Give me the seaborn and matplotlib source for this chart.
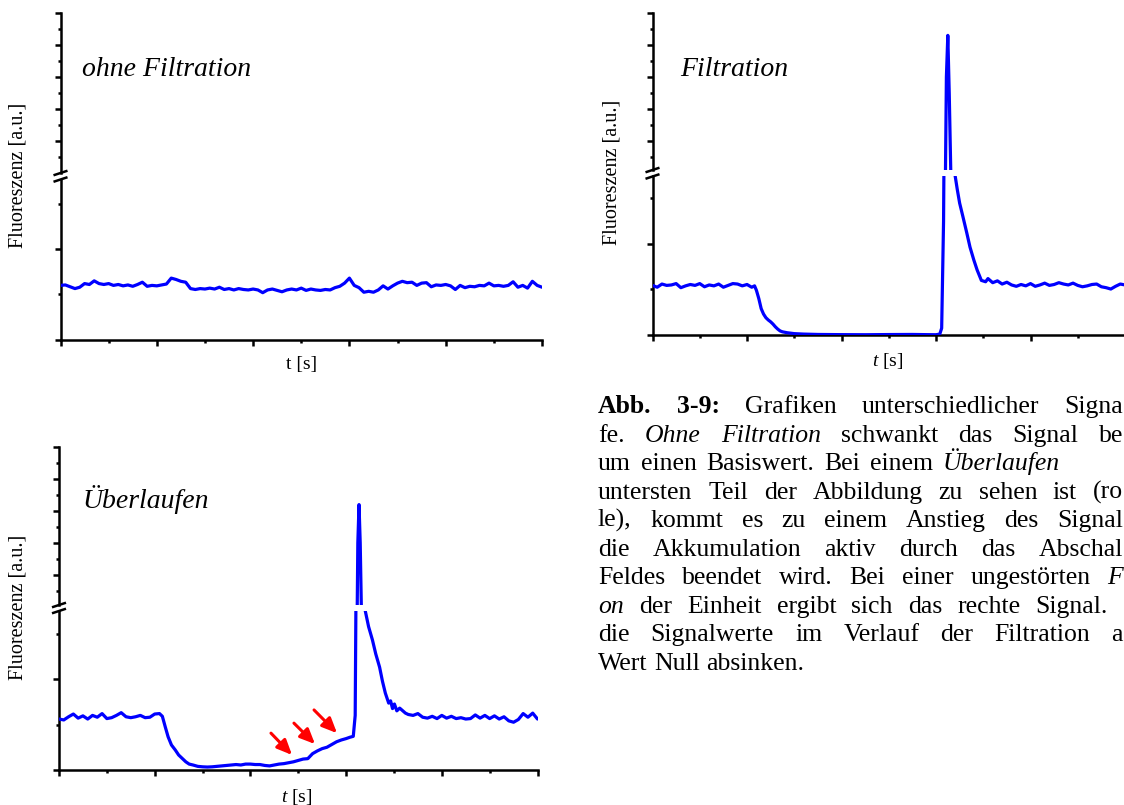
import numpy as np
import pandas as pd
import matplotlib
matplotlib.use("Agg")
import matplotlib.pyplot as plt
from matplotlib.lines import Line2D
import seaborn as sns

# ---------------- data ----------------
# time axis in arbitrary units 0..100, signal in arbitrary units
# lower segment of broken axis: 0..~3.5 ; upper segment: ~10..20

p1_t = list(range(0, 101))
p1_v = [1.20, 1.21, 1.17, 1.13, 1.16, 1.24, 1.22, 1.30, 1.24, 1.22,
        1.24, 1.20, 1.22, 1.19, 1.21, 1.18, 1.22, 1.27, 1.18, 1.20,
        1.19, 1.21, 1.23, 1.36, 1.33, 1.29, 1.27, 1.13, 1.11, 1.13,
        1.12, 1.14, 1.12, 1.16, 1.11, 1.13, 1.10, 1.13, 1.11, 1.10,
        1.12, 1.10, 1.04, 1.10, 1.12, 1.09, 1.06, 1.10, 1.12, 1.10,
        1.14, 1.09, 1.12, 1.10, 1.09, 1.11, 1.10, 1.15, 1.18, 1.25,
        1.36, 1.20, 1.15, 1.05, 1.07, 1.05, 1.10, 1.19, 1.12, 1.19,
        1.25, 1.29, 1.26, 1.27, 1.20, 1.25, 1.26, 1.17, 1.21, 1.20,
        1.22, 1.19, 1.11, 1.20, 1.15, 1.18, 1.17, 1.20, 1.19, 1.25,
        1.19, 1.20, 1.18, 1.20, 1.28, 1.16, 1.20, 1.14, 1.29, 1.20,
        1.16]

p2_t = list(range(0, 22)) + [21.6, 22.0, 22.5, 23.0, 23.5, 24.0, 24.5, 25.0, 25.5, 26.0,
                             26.5, 27.0, 27.5, 28.5, 30, 32, 35, 40, 45, 50, 55, 58, 60,
                             60.8, 61.2, 61.6, 61.9, 62.2, 62.5, 62.8, 63.2, 63.9, 64.5,
                             65.0, 65.7, 66.5, 67.2, 68.0, 68.7, 69.6, 70.5] + list(range(71, 101))
p2_v = [1.09, 1.05, 1.12, 1.09, 1.10, 1.13, 1.04, 1.08, 1.11, 1.09, 1.13,
        1.06, 1.10, 1.08, 1.12, 1.05, 1.09, 1.13, 1.12, 1.08, 1.11, 1.05,
        1.08, 0.98, 0.80, 0.58, 0.46, 0.38, 0.33, 0.29, 0.24, 0.18,
        0.13, 0.09, 0.07, 0.05, 0.03, 0.02, 0.012, 0.008, 0.006, 0.01, 0.012, 0.008, 0.006,
        0.02, 0.15, 2.5, 7.0, 16.0, 18.6, 15.0, 9.0, 3.6, 3.2,
        2.9, 2.6, 2.25, 1.93, 1.65, 1.43, 1.20, 1.17,
        1.24, 1.15, 1.19, 1.12, 1.16, 1.10, 1.07, 1.11, 1.08, 1.13,
        1.07, 1.10, 1.14, 1.09, 1.11, 1.15, 1.12, 1.10, 1.14, 1.09,
        1.06, 1.08, 1.11, 1.12, 1.06, 1.04, 1.01, 1.07, 1.12, 1.10]

p3_t = list(range(0, 22)) + [21.6, 22.2, 22.8, 23.5, 24.3, 25.0, 25.7, 26.5, 27.2] + \
       list(range(28, 61)) + [60.8, 61.5, 61.9, 62.2, 62.45, 62.7, 62.95, 63.3, 64.0, 64.7,
                              65.5, 66.2, 67.0, 67.6, 68.2, 68.9, 69.3, 69.7, 70.1, 70.6,
                              71.2, 72.4] + list(range(73, 101))
p3_v = [1.12, 1.10, 1.17, 1.23, 1.14, 1.19, 1.12, 1.20, 1.16, 1.24, 1.13,
        1.15, 1.20, 1.26, 1.17, 1.15, 1.17, 1.20, 1.15, 1.16, 1.23, 1.24,
        1.18, 0.95, 0.73, 0.55, 0.44, 0.33, 0.26, 0.18, 0.13,
        0.11, 0.08, 0.07, 0.065, 0.07, 0.08, 0.09, 0.10, 0.11, 0.12,
        0.11, 0.13, 0.13, 0.12, 0.12, 0.10, 0.09, 0.11, 0.13, 0.14,
        0.16, 0.18, 0.21, 0.24, 0.25, 0.36, 0.42, 0.47, 0.50, 0.56,
        0.62, 0.66, 0.69,
        0.72, 0.74, 1.2, 6.0, 14.0, 16.4, 14.0, 8.0, 3.5, 3.15,
        2.86, 2.55, 2.26, 1.95, 1.69, 1.47, 1.52, 1.35, 1.45, 1.30,
        1.36, 1.25,
        1.22, 1.20, 1.24, 1.16, 1.14, 1.18, 1.13, 1.20, 1.14, 1.18,
        1.13, 1.15, 1.12, 1.13, 1.21, 1.14, 1.20, 1.13, 1.19, 1.12,
        1.17, 1.08, 1.05, 1.11, 1.24, 1.16, 1.25, 1.12]

# red arrows in the "Überlaufen" panel (tail -> head, data units)
arrow_tail = [(44.3, 0.81), (49.1, 1.03), (53.3, 1.32)]
arrow_head = [(48.7, 0.33), (53.5, 0.57), (58.1, 0.81)]

panel_titles = ["ohne Filtration", "Filtration", "Überlaufen"]
xlabels = ["t [s]", "$t$ [s]", "$t$ [s]"]
ylabel = "Fluoreszenz [a.u.]"

caption_lines = [
    [("Abb.", "b"), ("3-9:", "b"), ("Grafiken", "n"), ("unterschiedlicher", "n"), ("Signa", "n")],
    [("fe.", "n"), ("Ohne", "i"), ("Filtration", "i"), ("schwankt", "n"), ("das", "n"), ("Signal", "n"), ("be", "n")],
    [("um", "n"), ("einen", "n"), ("Basiswert.", "n"), ("Bei", "n"), ("einem", "n"), ("Überlaufen", "i")],
    [(w, "n") for w in "untersten Teil der Abbildung zu sehen ist (ro".split()],
    [(w, "n") for w in "le), kommt es zu einem Anstieg des Signal".split()],
    [(w, "n") for w in "die Akkumulation aktiv durch das Abschal".split()],
    [(w, "n") for w in "Feldes beendet wird. Bei einer ungestörten".split()] + [("F", "i")],
    [("on", "i")] + [(w, "n") for w in "der Einheit ergibt sich das rechte Signal.".split()],
    [(w, "n") for w in "die Signalwerte im Verlauf der Filtration a".split()],
    [(w, "n") for w in "Wert Null absinken.".split()],
]
# x (px) where the last visible word of each line ends (None = natural spacing)
caption_right = [1123, 1123, 1060, 1123, 1123, 1123, 1123, 1108, 1123, None]

# ---------------- style ----------------
sns.set_style("white")
plt.rcParams['font.family'] = ['Liberation Serif', 'DejaVu Serif']
plt.rcParams['mathtext.fontset'] = 'custom'
plt.rcParams['mathtext.it'] = 'Liberation Serif:italic'
plt.rcParams['mathtext.rm'] = 'Liberation Serif'
plt.rcParams['text.color'] = 'black'

W, H = 1124, 805
fig = plt.figure(figsize=(W / 100, H / 100), dpi=100)
fig.patch.set_facecolor("white")

BLUE = "#0000FF"
LW_AX = 1.8
LOW_PX = 45.5   # pixels per unit in lower segment
UP_PX = 16.0    # pixels per unit in upper segment


def px_axes(x0, x1, ytop, ybot):
    return fig.add_axes([x0 / W, 1 - ybot / H, (x1 - x0) / W, (ybot - ytop) / H])


def slash(xc, yc):
    xs = [(xc - 7) / W, (xc + 7) / W]
    ys = [1 - (yc + 2.3) / H, 1 - (yc - 2.3) / H]
    fig.add_artist(Line2D(xs, ys, transform=fig.transFigure, color="black",
                          lw=LW_AX, solid_capstyle="butt"))


def style_axis(ax, lower):
    for s in ["top", "right"]:
        ax.spines[s].set_visible(False)
    ax.spines["left"].set_linewidth(LW_AX)
    ax.spines["left"].set_color("black")
    if lower:
        ax.spines["bottom"].set_linewidth(LW_AX)
        ax.spines["bottom"].set_color("black")
    else:
        ax.spines["bottom"].set_visible(False)
    ax.set_facecolor("none")
    ax.tick_params(which="major", direction="out", length=4.5, width=LW_AX, color="black",
                   labelleft=False, labelbottom=False, left=True, bottom=lower)
    ax.tick_params(which="minor", direction="out", length=2.2, width=LW_AX, color="black",
                   left=True, bottom=lower)
    ax.set_xlabel("")
    ax.set_ylabel("")


panels = [
    # x0, x1, top, up_bot, low_top, bot
    dict(geom=(60.5, 542, 13, 173, 179.5, 340), t=p1_t, v=p1_v),
    dict(geom=(652.5, 1125, 13, 170, 176.5, 335), t=p2_t, v=p2_v),
    dict(geom=(59, 537.5, 447, 605, 611, 770), t=p3_t, v=p3_v),
]

low_axes = []
for i, p in enumerate(panels):
    x0, x1, top, up_bot, low_top, bot = p["geom"]
    df = pd.DataFrame({"t": p["t"], "v": p["v"]})
    ax_lo = px_axes(x0, x1, low_top, bot)
    ax_up = px_axes(x0, x1, top, up_bot)
    for ax in (ax_lo, ax_up):
        sns.lineplot(data=df, x="t", y="v", ax=ax, color=BLUE, linewidth=2.3,
                     estimator=None, sort=False, legend=False, zorder=3)
        for ln in ax.lines:
            ln.set_solid_joinstyle("round")
        ax.set_xlim(0, 100)
    ax_lo.set_ylim(0, (bot - low_top) / LOW_PX)
    ax_up.set_ylim(20 - (up_bot - top) / UP_PX, 20)
    style_axis(ax_lo, True)
    style_axis(ax_up, False)
    ax_lo.set_xticks([0, 20, 40, 60, 80, 100])
    ax_lo.set_xticks([10, 30, 50, 70, 90], minor=True)
    ax_lo.set_yticks([0, 2])
    ax_lo.set_yticks([1, 3], minor=True)
    ax_up.set_xticks([])
    ax_up.set_yticks([12, 14, 16, 18, 20])
    ax_up.set_yticks([11, 13, 15, 17, 19], minor=True)
    slash(x0, low_top)
    slash(x0, up_bot)
    low_axes.append(ax_lo)

# arrows (Überlaufen)
for (tx, ty), (hx, hy) in zip(arrow_tail, arrow_head):
    low_axes[2].annotate("", xy=(hx, hy), xytext=(tx, ty),
                         arrowprops=dict(arrowstyle="-|>,head_length=0.9,head_width=0.4",
                                         color="#FF0000", lw=2.2, shrinkA=0, shrinkB=0),
                         zorder=4)

# panel texts
title_pos = [(82, 70), (680, 70), (82, 499)]
for (x, y), s in zip(title_pos, panel_titles):
    fig.text(x / W, 1 - y / H, s, fontsize=20, fontstyle="italic", va="center", ha="left",
             color="black")

ylab_pos = [(18, 175), (612, 172), (18, 607)]
for x, y in ylab_pos:
    fig.text(x / W, 1 - y / H, ylabel, fontsize=14.5, rotation=90, va="center", ha="center",
             color="black")

xlab_pos = [(302, 364), (888, 361), (297, 797)]
for (x, y), s in zip(xlab_pos, xlabels):
    fig.text(x / W, 1 - y / H, s, fontsize=14, va="center", ha="center", color="black")

# caption (justified block; words spread so that the last visible word ends at the given x)
renderer = fig.canvas.get_renderer()
CAP_FS = 18.5
cap_left = 598
cap_base0 = 413
cap_step = 28.5
for k, (segs, right) in enumerate(zip(caption_lines, caption_right)):
    y = 1 - (cap_base0 + k * cap_step) / H
    texts = []
    for word, st in segs:
        t = fig.text(0, y, word, fontsize=CAP_FS, va="baseline", ha="left", color="black",
                     fontweight="bold" if st == "b" else "normal",
                     fontstyle="italic" if st == "i" else "normal")
        texts.append(t)
    widths = [t.get_window_extent(renderer).width for t in texts]
    if right is None or len(texts) == 1:
        gap = 0.25 * CAP_FS * 100 / 72
    else:
        gap = (right - cap_left - sum(widths)) / (len(texts) - 1)
    x = cap_left
    for t, w in zip(texts, widths):
        t.set_x(x / W)
        x += w + gap

fig.savefig("out.png", dpi=100, facecolor="white")
